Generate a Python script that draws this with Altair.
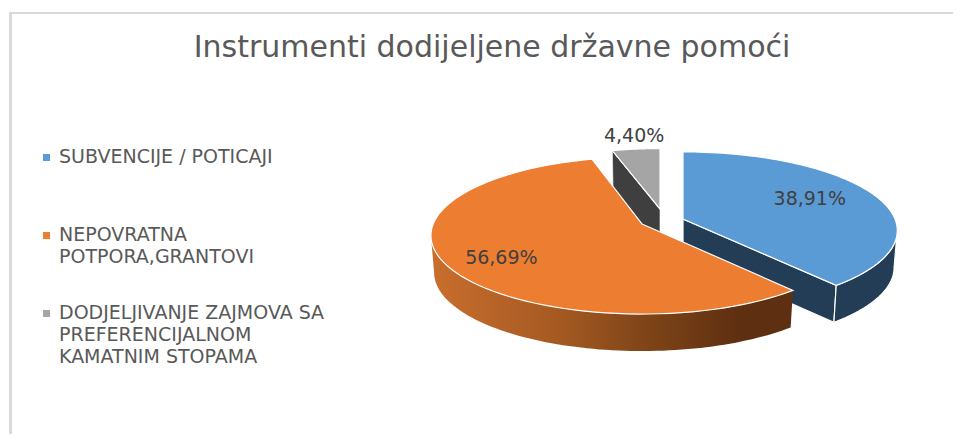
import math
import altair as alt

categories = ["SUBVENCIJE / POTICAJI", "NEPOVRATNA|POTPORA,GRANTOVI",
              "DODJELJIVANJE ZAJMOVA SA|PREFERENCIJALNOM|KAMATNIM STOPAMA"]
shares = [38.91, 56.69, 4.40]
share_labels = ["38,91%", "56,69%", "4,40%"]
top_colors = ["#5b9bd5", "#ed7d31", "#a5a5a5"]
title_text = "Instrumenti dodijeljene državne pomoći"

# exploded pie layout, in page pixels
APEX = [(683, 219), (642, 224), (660, 209)]
SHRINK = [(1.0, 1.0), (0.985, 1.0), (0.94, 0.9)]
LABEL_R = [(0.668, 0.8), (0.71, 0.88), (1.08, 1.22)]
R, S, P = 212, 76.9, 0.146
DEPTH = 37
OFFSET = (-8, -8)
EXTREME = math.degrees(math.acos(-P))  # angle of the rim's widest point


def rim(i, deg, drop=0):
    th = math.radians(deg)
    u, v = math.sin(th), math.cos(th)
    w = 1 + P * v
    ax, ay = APEX[i]
    sx, sy = SHRINK[i]
    k = 0.985 if drop else 1.0
    return [ax + k * sx * R * u / w, ay - sy * S * v / w + drop]


def arc(i, a, b, drop=0, n=80):
    return [rim(i, a + (b - a) * t / n, drop) for t in range(n + 1)]


def feat(ring, name=None):
    ring = ring + [ring[0]]
    return {"type": "Feature", "geometry": {"type": "Polygon", "coordinates": [ring]},
            "properties": {"name": name}}


starts, acc = [], 0.0
for s in shares:
    starts.append(acc)
    acc += s * 3.6
ends = [starts[i] + shares[i] * 3.6 for i in range(3)]

proj = alt.Projection(type="identity", scale=1, translate=list(OFFSET))


def shapes(features, **kw):
    return alt.Chart(alt.Data(values=features)).mark_geoshape(**kw).properties(projection=proj)


def wall_between(i, a, b):
    return feat(arc(i, a, b) + arc(i, a, b, DEPTH)[::-1])


def radial_wall(i, deg):
    ax, ay = APEX[i]
    e = rim(i, deg)
    eb = rim(i, deg, DEPTH)
    return feat([[ax, ay], e, eb, [ax, ay + DEPTH]])


grey_wall = shapes([radial_wall(2, starts[2])], fill="#3f3f3f", stroke="white", strokeWidth=0.6)
grey_top = shapes([feat([list(APEX[2])] + arc(2, starts[2], ends[2]))],
                  fill=top_colors[2], stroke="white", strokeWidth=1)
blue_walls = shapes([radial_wall(0, ends[0]), wall_between(0, EXTREME, ends[0])],
                    fill="#223d55", stroke="white", strokeWidth=1.2)
orange_wall = shapes([wall_between(1, starts[1], 360 - EXTREME)],
                     fill=alt.Gradient(gradient="linear", x1=0, x2=1, y1=0, y2=0, stops=[
                         alt.GradientStop(color="#c96e2e", offset=0),
                         alt.GradientStop(color="#a55a22", offset=0.35),
                         alt.GradientStop(color="#7e4418", offset=0.6),
                         alt.GradientStop(color="#5f2f11", offset=0.85),
                         alt.GradientStop(color="#5e2f11", offset=1)]),
                     strokeWidth=0)

tops = [feat([list(APEX[i])] + arc(i, starts[i], ends[i]), categories[i]) for i in range(3)]
top_faces = shapes([tops[0], tops[1], tops[2]], stroke="white", strokeWidth=1.2).encode(
    color=alt.Color("properties.name:N", scale=alt.Scale(domain=categories, range=top_colors),
                    sort=categories,
                    legend=alt.Legend(orient="none", legendX=29, legendY=140, title=None,
                                      labelExpr="split(datum.label,'|')",
                                      labelBaseline="top", labelFont="DejaVu Sans", labelFontSize=19,
                                      labelColor="#595959", labelLimit=400, gridAlign="all",
                                      columns=1, rowPadding=15, labelOffset=3, symbolType="square",
                                      symbolSize=49, symbolStrokeWidth=0))
)

label_rows = []
for i in range(3):
    mid = (starts[i] + ends[i]) / 2
    p = rim(i, mid)
    label_rows.append({"lon": APEX[i][0] + (p[0] - APEX[i][0]) * LABEL_R[i][0],
                       "lat": APEX[i][1] + (p[1] - APEX[i][1]) * LABEL_R[i][1],
                       "label": share_labels[i]})

labels = alt.Chart(alt.Data(values=label_rows)).mark_text(
    font="DejaVu Sans", fontSize=19, color="#404040").encode(
    longitude="lon:Q", latitude="lat:Q", text="label:N").properties(projection=proj)

frame_left = alt.Chart(alt.Data(values=[{"a": 0}])).mark_rule(color="#d9d9d9", strokeWidth=3).encode(
    x=alt.value(2.5), y=alt.value(4), y2=alt.value(434))
frame_top = alt.Chart(alt.Data(values=[{"a": 0}])).mark_rule(color="#d9d9d9", strokeWidth=2).encode(
    x=alt.value(1), x2=alt.value(953), y=alt.value(5))

title = alt.Chart(alt.Data(values=[{"t": title_text}])).mark_text(
    font="DejaVu Sans", fontSize=30, color="#595959", align="center", baseline="alphabetic").encode(
    x=alt.value(484), y=alt.value(49), text="t:N")

chart = alt.layer(frame_left, frame_top, title, grey_wall, grey_top, blue_walls, orange_wall,
                  top_faces, labels).properties(
    width=945, height=426, padding=0, autosize=alt.AutoSizeParams(type="none"),
    background="white",
    config=alt.Config(view=alt.ViewConfig(stroke=None),
                      style={"guide-label": {"lineHeight": 22, "dy": -9.5}}))

chart.save("out.html", embed_options={"renderer": "svg", "actions": False})
